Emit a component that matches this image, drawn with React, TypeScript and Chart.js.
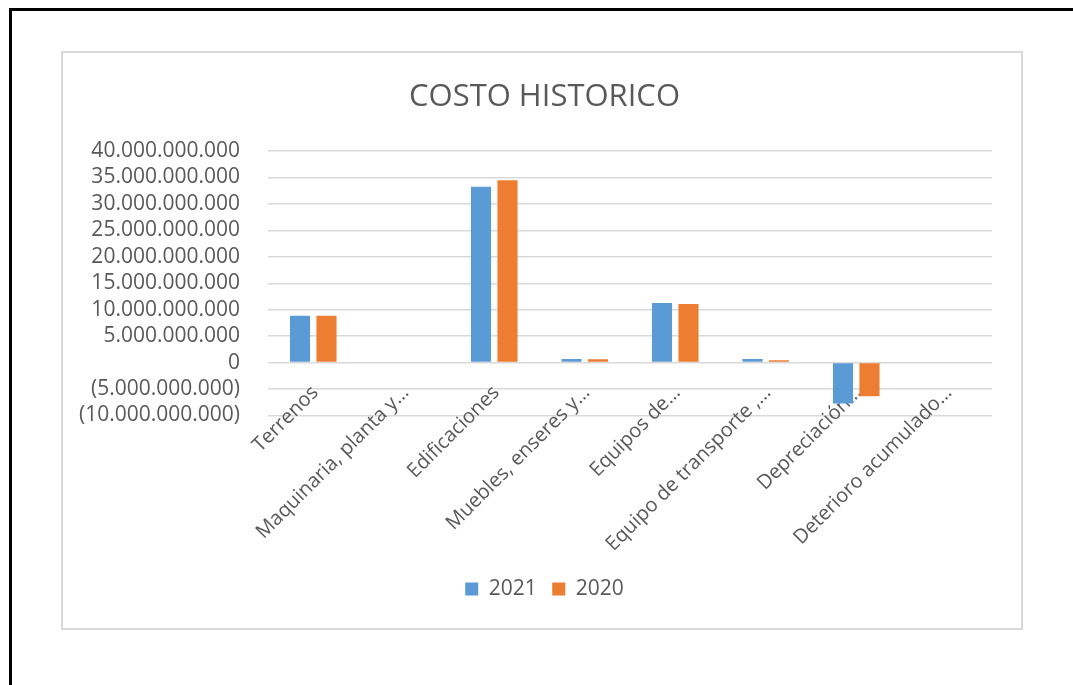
import React, { useEffect, useRef } from "react";
import { Chart, registerables } from "chart.js";

Chart.register(...registerables);

const categories = [
  "Terrenos",
  "Maquinaria, planta y…",
  "Edificaciones",
  "Muebles, enseres y…",
  "Equipos de…",
  "Equipo de transporte ,…",
  "Depreciación…",
  "Deterioro acumulado…",
];
const values2021 = [8870000000, 0, 33260000000, 700000000, 11260000000, 700000000, -7740000000, 0];
const values2020 = [8850000000, 0, 34470000000, 650000000, 11070000000, 430000000, -6360000000, 0];
const yMin = -10000000000;
const yMax = 40000000000;
const yStep = 5000000000;

const FONT = "'Open Sans', sans-serif";
const GREY = "#595959";

function fmt(v: number): string {
  if (v === 0) return "0";
  const s = Math.abs(Math.round(v)).toString().replace(/\B(?=(\d{3})+(?!\d))/g, ".");
  return v < 0 ? "(" + s + ")" : s;
}

// Centres the title and legend on the whole chart box rather than on the padded area.
const shiftBoxes = {
  id: "shiftBoxes",
  afterLayout(chart: any) {
    const d = 17;
    [chart.titleBlock, chart.legend].forEach((b: any) => {
      if (b) {
        b.left += d;
        b.right += d;
      }
    });
  },
};

export default function App() {
  const ref = useRef<HTMLCanvasElement | null>(null);
  useEffect(() => {
    if (!ref.current) return;
    const chart = new Chart(ref.current, {
      type: "bar",
      data: {
        labels: categories,
        datasets: [
          { label: "2021", data: values2021, backgroundColor: "#5b9bd5", barPercentage: 0.76, categoryPercentage: 0.585 },
          { label: "2020", data: values2020, backgroundColor: "#ed7d31", barPercentage: 0.76, categoryPercentage: 0.585 },
        ],
      },
      plugins: [shiftBoxes],
      options: {
        animation: false,
        responsive: false,
        maintainAspectRatio: false,
        layout: { padding: { left: 0, right: 29, top: 0, bottom: 18.5 } },
        plugins: {
          title: {
            display: true,
            text: "COSTO HISTORICO",
            color: GREY,
            font: { family: FONT, size: 31, weight: "normal" },
            padding: { top: 25.4, bottom: 35.4 },
          },
          legend: {
            position: "bottom",
            labels: {
              color: GREY,
              font: { family: FONT, size: 21 },
              boxWidth: 13,
              boxHeight: 13,
              padding: 15.5,
            },
          },
          tooltip: { enabled: false },
        },
        scales: {
          x: {
            grid: { display: false, drawTicks: false },
            border: { display: false },
            ticks: {
              color: GREY,
              font: { family: FONT, size: 20 },
              maxRotation: 45,
              minRotation: 45,
              autoSkip: false,
              mirror: true,
              padding: 17.5,
              labelOffset: 19,
            },
            afterFit: (s: any) => {
              s.height = 147.5;
            },
          },
          y: {
            min: yMin,
            max: yMax,
            grid: { color: "#d9d9d9", lineWidth: 1.5, drawTicks: false },
            border: { display: false },
            ticks: {
              stepSize: yStep,
              autoSkip: false,
              color: GREY,
              font: { family: FONT, size: 21 },
              padding: 28,
              callback: (v: any) => fmt(Number(v)),
            },
            afterFit: (s: any) => {
              s.width = 205;
            },
          },
        },
      },
    });
    return () => chart.destroy();
  }, []);

  return (
    <div style={{ position: "fixed", inset: 0, overflow: "hidden", background: "#fff" }}>
      <div
        style={{
          position: "absolute",
          left: 9,
          top: 8,
          width: 1200,
          height: 800,
          borderLeft: "3px solid #000",
          borderTop: "3px solid #000",
        }}
      />
      <div
        style={{
          position: "absolute",
          left: 61,
          top: 51,
          width: 958,
          height: 575,
          border: "2px solid #d9d9d9",
          background: "#fff",
        }}
      >
        <canvas ref={ref} width={958} height={575} style={{ display: "block" }} />
      </div>
    </div>
  );
}
